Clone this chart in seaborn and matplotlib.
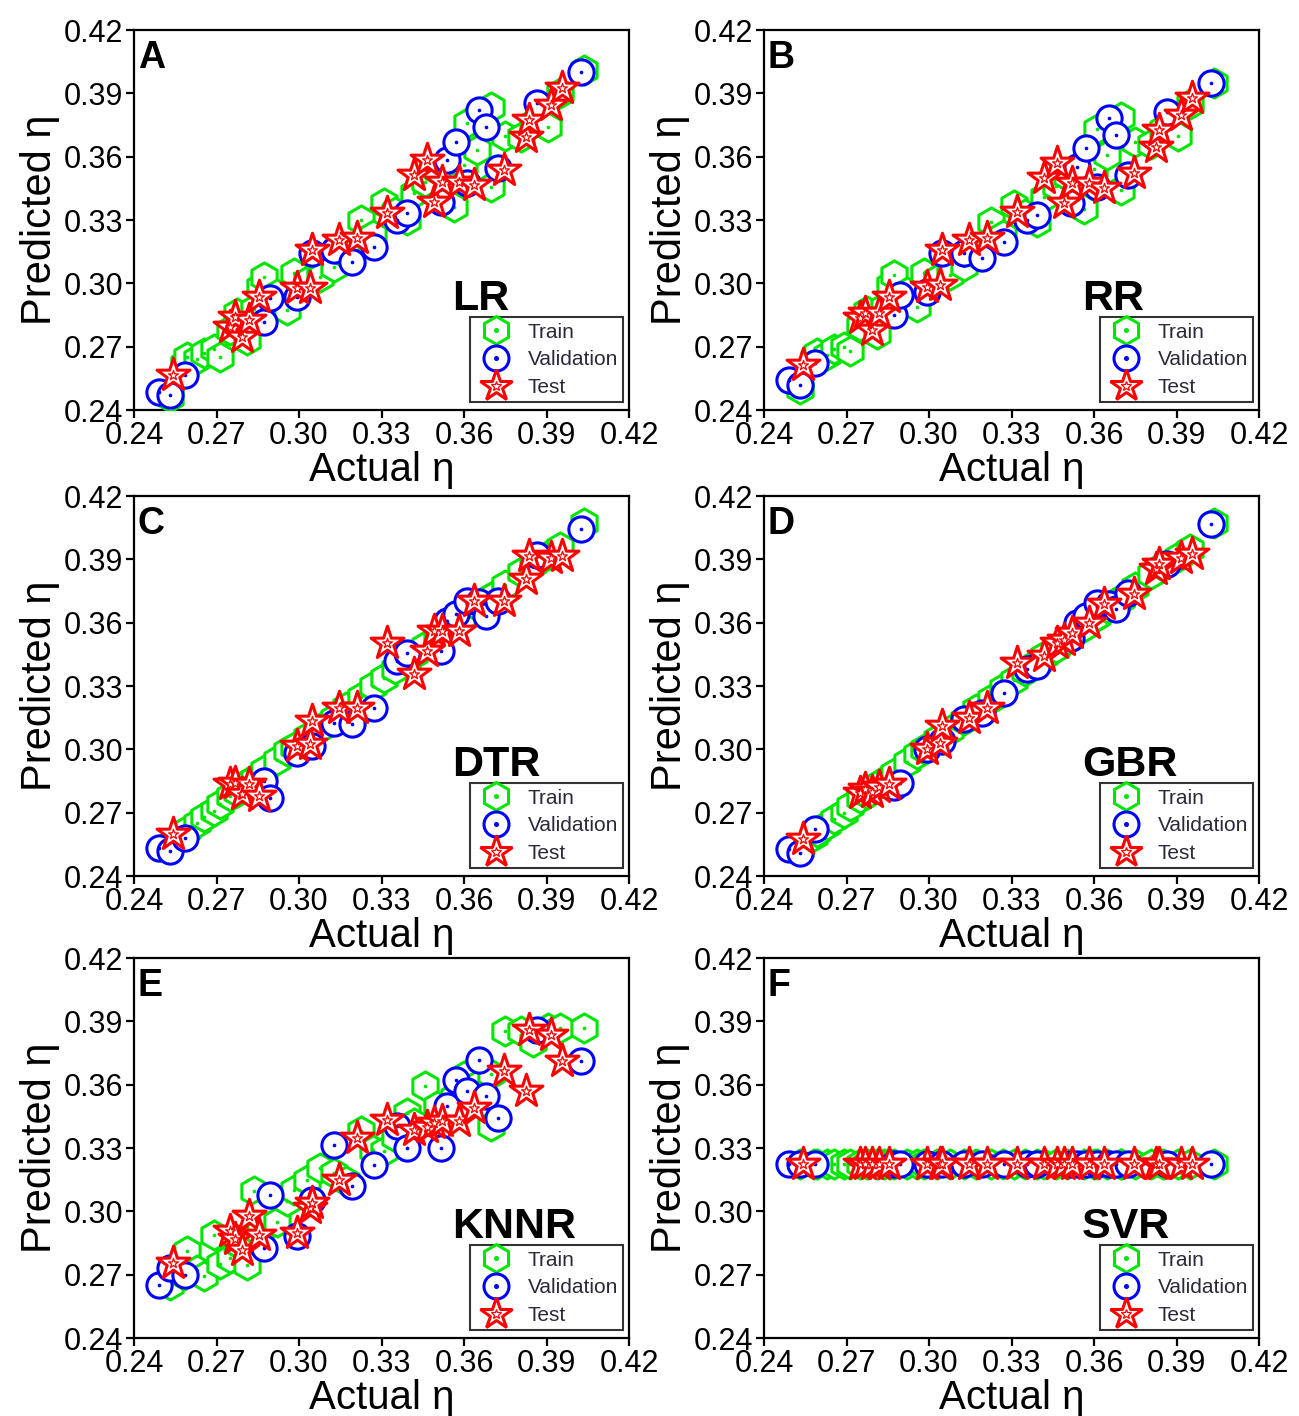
import numpy as np
import pandas as pd
import matplotlib
matplotlib.use("Agg")
import matplotlib.pyplot as plt
import seaborn as sns
from matplotlib.lines import Line2D
from matplotlib.legend_handler import HandlerTuple

# ---------------- data ----------------
ticks = [0.24, 0.27, 0.30, 0.33, 0.36, 0.39, 0.42]
panel_letters = ["A", "B", "C", "D", "E", "F"]
model_names = ["LR", "RR", "DTR", "GBR", "KNNR", "SVR"]
series_labels = ["Train", "Validation", "Test"]

train_actual = [0.2531, 0.2580, 0.2592, 0.2630, 0.2653, 0.2690, 0.2713, 0.2750, 0.2774, 0.2810,
                0.2835, 0.2859, 0.2871, 0.2920, 0.2956, 0.2980, 0.3030, 0.3078, 0.3126, 0.3170,
                0.3224, 0.3270, 0.3309, 0.3350, 0.3394, 0.3418, 0.3460, 0.3503, 0.3564, 0.3600,
                0.3612, 0.3649, 0.3697, 0.3697, 0.3750, 0.3807, 0.3850, 0.3904, 0.3950, 0.4037]
val_actual = [0.2492, 0.2531, 0.2586, 0.2871, 0.2896, 0.2993, 0.3047, 0.3126, 0.3193, 0.3272,
              0.3357, 0.3394, 0.3515, 0.3539, 0.3570, 0.3612, 0.3655, 0.3679, 0.3722, 0.3867, 0.4025]
test_actual = [0.2543, 0.2750, 0.2768, 0.2793, 0.2817, 0.2853, 0.2993, 0.3041, 0.3047, 0.3145,
               0.3211, 0.3321, 0.3418, 0.3466, 0.3491, 0.3521, 0.3582, 0.3637, 0.3746, 0.3825,
               0.3837, 0.3916, 0.3958]

lr_train = [0.2463, 0.2620, 0.2653, 0.2640, 0.2668, 0.2690, 0.2653, 0.2780, 0.2858, 0.2732,
            0.2880, 0.2984, 0.3032, 0.2950, 0.2874, 0.3047, 0.3010, 0.3032, 0.3079, 0.3140,
            0.3300, 0.3230, 0.3379, 0.3340, 0.3300, 0.3426, 0.3480, 0.3537, 0.3363, 0.3560,
            0.3758, 0.3632, 0.3837, 0.3458, 0.3700, 0.3695, 0.3760, 0.3742, 0.3900, 0.4011]
lr_val = [0.2487, 0.2471, 0.2566, 0.2818, 0.2929, 0.2937, 0.3142, 0.3158, 0.3103, 0.3174,
          0.3300, 0.3332, 0.3387, 0.3584, 0.3671, 0.3474, 0.3821, 0.3742, 0.3545, 0.3853, 0.4003]
lr_test = [0.2566, 0.2795, 0.2842, 0.2747, 0.2826, 0.2937, 0.2976, 0.2976, 0.3158, 0.3205,
           0.3213, 0.3332, 0.3513, 0.3584, 0.3387, 0.3482, 0.3482, 0.3466, 0.3537, 0.3695,
           0.3774, 0.3845, 0.3924]

rr_train = [0.2500, 0.2640, 0.2670, 0.2660, 0.2690, 0.2700, 0.2680, 0.2800, 0.2870, 0.2760,
            0.2890, 0.2990, 0.3040, 0.2960, 0.2890, 0.3050, 0.3020, 0.3040, 0.3080, 0.3140,
            0.3290, 0.3230, 0.3370, 0.3330, 0.3290, 0.3410, 0.3460, 0.3510, 0.3350, 0.3540,
            0.3730, 0.3610, 0.3790, 0.3440, 0.3670, 0.3660, 0.3730, 0.3700, 0.3850, 0.3950]
rr_val = [0.2542, 0.2518, 0.2621, 0.2850, 0.2945, 0.2961, 0.3142, 0.3142, 0.3118, 0.3197,
          0.3300, 0.3324, 0.3379, 0.3553, 0.3639, 0.3458, 0.3782, 0.3703, 0.3513, 0.3813, 0.3947]
rr_test = [0.2613, 0.2834, 0.2860, 0.2779, 0.2858, 0.2937, 0.2984, 0.2992, 0.3158, 0.3205,
           0.3213, 0.3339, 0.3497, 0.3568, 0.3379, 0.3474, 0.3474, 0.3450, 0.3521, 0.3647,
           0.3726, 0.3797, 0.3876]

dtr_train = [0.2550, 0.2600, 0.2620, 0.2650, 0.2680, 0.2710, 0.2740, 0.2780, 0.2800, 0.2840,
             0.2860, 0.2880, 0.2900, 0.2950, 0.2990, 0.3010, 0.3060, 0.3100, 0.3150, 0.3200,
             0.3250, 0.3300, 0.3340, 0.3380, 0.3420, 0.3450, 0.3490, 0.3530, 0.3590, 0.3630,
             0.3640, 0.3680, 0.3720, 0.3720, 0.3780, 0.3840, 0.3880, 0.3920, 0.3960, 0.4070]
dtr_val = [0.2534, 0.2518, 0.2582, 0.2850, 0.2771, 0.2984, 0.3016, 0.3126, 0.3118, 0.3197,
           0.3418, 0.3458, 0.3466, 0.3608, 0.3640, 0.3703, 0.3700, 0.3632, 0.3703, 0.3920, 0.4042]
dtr_test = [0.2597, 0.2834, 0.2840, 0.2787, 0.2834, 0.2779, 0.3016, 0.3024, 0.3134, 0.3197,
            0.3197, 0.3505, 0.3355, 0.3466, 0.3561, 0.3561, 0.3561, 0.3703, 0.3703, 0.3805,
            0.3916, 0.3908, 0.3916]

gbr_train = [0.2530, 0.2590, 0.2610, 0.2640, 0.2670, 0.2700, 0.2730, 0.2770, 0.2790, 0.2830,
             0.2850, 0.2870, 0.2890, 0.2940, 0.2980, 0.3000, 0.3050, 0.3090, 0.3140, 0.3190,
             0.3240, 0.3290, 0.3330, 0.3370, 0.3410, 0.3440, 0.3480, 0.3520, 0.3580, 0.3620,
             0.3630, 0.3670, 0.3710, 0.3710, 0.3770, 0.3830, 0.3870, 0.3910, 0.3950, 0.4070]
gbr_val = [0.2526, 0.2511, 0.2621, 0.2820, 0.2842, 0.3000, 0.3040, 0.3142, 0.3174, 0.3269,
           0.3379, 0.3395, 0.3529, 0.3600, 0.3632, 0.3695, 0.3690, 0.3663, 0.3742, 0.3876, 0.4066]
gbr_test = [0.2574, 0.2795, 0.2811, 0.2800, 0.2820, 0.2834, 0.3000, 0.3032, 0.3111, 0.3150,
            0.3197, 0.3411, 0.3442, 0.3505, 0.3520, 0.3553, 0.3600, 0.3687, 0.3734, 0.3853,
            0.3880, 0.3908, 0.3924]

knnr_train = [0.2650, 0.2700, 0.2811, 0.2720, 0.2692, 0.2889, 0.2750, 0.2780, 0.2850, 0.2747,
              0.3095, 0.2900, 0.3000, 0.2950, 0.3050, 0.3100, 0.3150, 0.3205, 0.3180, 0.3142,
              0.3379, 0.3290, 0.3284, 0.3350, 0.3466, 0.3420, 0.3592, 0.3500, 0.3540, 0.3639,
              0.3560, 0.3600, 0.3402, 0.3650, 0.3853, 0.3853, 0.3800, 0.3870, 0.3868, 0.3868]
knnr_val = [0.2653, 0.2732, 0.2700, 0.2826, 0.3079, 0.2882, 0.3055, 0.3316, 0.3118, 0.3221,
            0.3403, 0.3300, 0.3300, 0.3497, 0.3624, 0.3568, 0.3718, 0.3545, 0.3442, 0.3861, 0.3711]
knnr_test = [0.2755, 0.2905, 0.2870, 0.2818, 0.2976, 0.2889, 0.2897, 0.3016, 0.3040, 0.3150,
             0.3347, 0.3434, 0.3387, 0.3400, 0.3420, 0.3426, 0.3426, 0.3489, 0.3663, 0.3568,
             0.3861, 0.3837, 0.3711]

svr_train = [0.3222, 0.3222, 0.3222, 0.3222, 0.3222, 0.3222, 0.3222, 0.3222, 0.3222, 0.3222,
             0.3222, 0.3222, 0.3222, 0.3222, 0.3222, 0.3222, 0.3222, 0.3222, 0.3222, 0.3222,
             0.3222, 0.3222, 0.3222, 0.3222, 0.3222, 0.3222, 0.3222, 0.3222, 0.3222, 0.3222,
             0.3222, 0.3222, 0.3222, 0.3222, 0.3222, 0.3222, 0.3222, 0.3222, 0.3222, 0.3222]
svr_val = [0.3222, 0.3222, 0.3222, 0.3222, 0.3222, 0.3222, 0.3222, 0.3222, 0.3222, 0.3222,
           0.3222, 0.3222, 0.3222, 0.3222, 0.3222, 0.3222, 0.3222, 0.3222, 0.3222, 0.3222, 0.3222]
svr_test = [0.3222, 0.3222, 0.3222, 0.3222, 0.3222, 0.3222, 0.3222, 0.3222, 0.3222, 0.3222,
            0.3222, 0.3222, 0.3222, 0.3222, 0.3222, 0.3222, 0.3222, 0.3222, 0.3222, 0.3222,
            0.3222, 0.3222, 0.3222]

train_preds = [lr_train, rr_train, dtr_train, gbr_train, knnr_train, svr_train]
val_preds = [lr_val, rr_val, dtr_val, gbr_val, knnr_val, svr_val]
test_preds = [lr_test, rr_test, dtr_test, gbr_test, knnr_test, svr_test]

# ---------------- style ----------------
sns.set_theme(style="ticks")
plt.rcParams["font.family"] = ["Liberation Sans", "DejaVu Sans"]

GREEN = "#00e600"
BLUE = "#0000ff"
RED = "#ff0000"

W, H = 1299, 1416
fig = plt.figure(figsize=(W / 100, H / 100), dpi=100)

ax_left_px = [134, 764]
ax_bottom_px = [410, 876, 1338]
ax_w, ax_h = 495, 380


def draw_series(ax, x, y, big_marker, big_s, color, small_marker, small_s, small_face, small_edge, small_lw):
    df = pd.DataFrame({"actual": x, "pred": y})
    sns.scatterplot(data=df, x="actual", y="pred", ax=ax, marker=big_marker, s=big_s,
                    color="white", edgecolor=color, linewidth=2.2, legend=False, zorder=3)
    sns.scatterplot(data=df, x="actual", y="pred", ax=ax, marker=small_marker, s=small_s,
                    color=small_face, edgecolor=small_edge, linewidth=small_lw, legend=False, zorder=3)


for i in range(6):
    r, c = divmod(i, 2)
    l = ax_left_px[c]
    b = ax_bottom_px[r]
    ax = fig.add_axes([l / W, 1 - b / H, ax_w / W, ax_h / H])

    draw_series(ax, train_actual, train_preds[i], "h", 440, GREEN, "o", 7, GREEN, GREEN, 0)
    draw_series(ax, val_actual, val_preds[i], "o", 330, BLUE, "o", 7, BLUE, BLUE, 0)
    draw_series(ax, test_actual, test_preds[i], "*", 620, RED, "*", 55, "white", RED, 0.9)

    ax.set_xlim(ticks[0], ticks[-1])
    ax.set_ylim(ticks[0], ticks[-1])
    ax.set_xticks(ticks)
    ax.set_yticks(ticks)
    ax.set_xticklabels([f"{t:.2f}" for t in ticks])
    ax.set_yticklabels([f"{t:.2f}" for t in ticks])
    ax.tick_params(direction="out", length=6, width=1.6, labelsize=22, pad=2, colors="black")
    for sp in ax.spines.values():
        sp.set_visible(True)
        sp.set_linewidth(1.6)
        sp.set_color("black")
    ax.set_xlabel("Actual η", fontsize=29, labelpad=0, color="black")
    ax.set_ylabel("Predicted η", fontsize=30, labelpad=2, color="black")

    ax.text(0.008, 0.975, panel_letters[i], transform=ax.transAxes, fontsize=27,
            fontweight="bold", ha="left", va="top", color="black")
    ax.text(0.642, 0.262, model_names[i], transform=ax.transAxes, fontsize=31,
            fontweight="bold", ha="left", va="baseline", color="black", zorder=5)

    handles = [
        (Line2D([], [], marker="h", ms=20, mfc="white", mec=GREEN, mew=2.2, ls=""),
         Line2D([], [], marker="o", ms=2.6, mfc=GREEN, mec=GREEN, ls="")),
        (Line2D([], [], marker="o", ms=18, mfc="white", mec=BLUE, mew=2.2, ls=""),
         Line2D([], [], marker="o", ms=2.6, mfc=BLUE, mec=BLUE, ls="")),
        (Line2D([], [], marker="*", ms=24, mfc="white", mec=RED, mew=2.2, ls=""),
         Line2D([], [], marker="*", ms=7, mfc="white", mec=RED, mew=0.9, ls="")),
    ]
    leg = ax.legend(handles, series_labels, handler_map={tuple: HandlerTuple(ndivide=1, pad=0)},
                    loc="lower right", bbox_to_anchor=(0.988, 0.02), fontsize=15,
                    frameon=True, fancybox=False, edgecolor="#333333", framealpha=1,
                    borderpad=0.25, labelspacing=0.42, handlelength=2.0, handletextpad=0.5,
                    borderaxespad=0)
    leg.get_frame().set_linewidth(1.5)
    leg.set_zorder(6)
    for t in leg.get_texts():
        t.set_color("#2a2a3a")

fig.savefig("out.png", dpi=100)
